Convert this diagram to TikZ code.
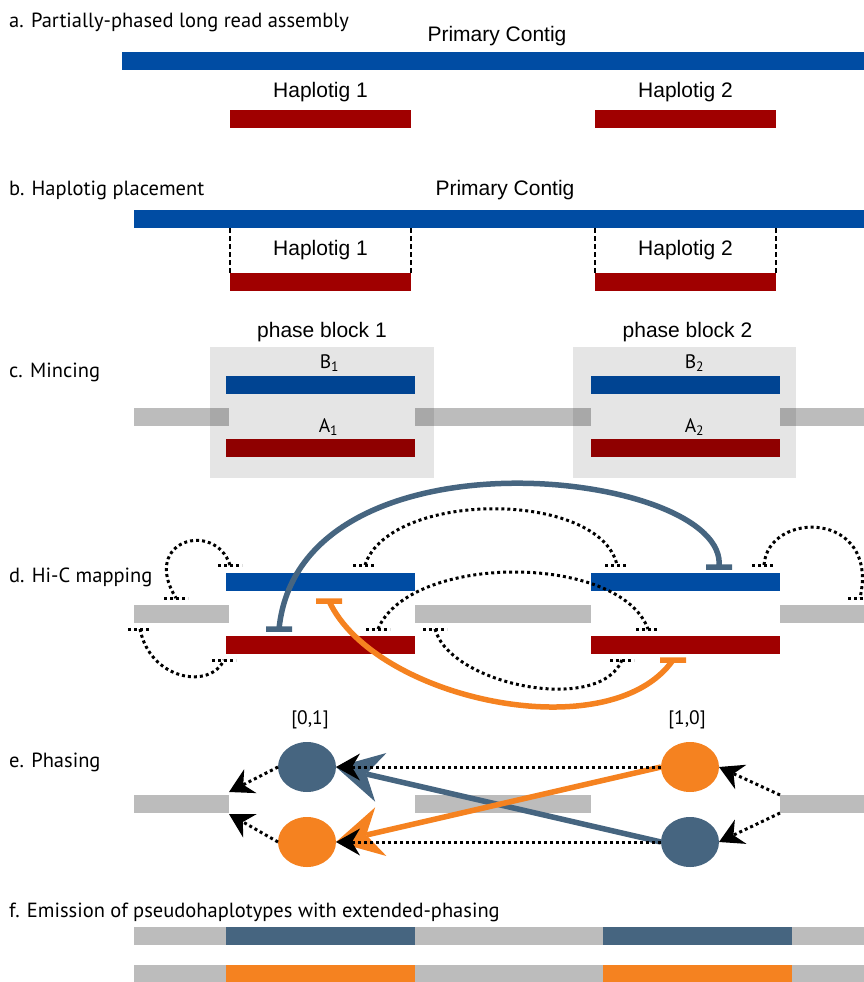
\documentclass[tikz,border=0pt]{standalone}
\usepackage{fontspec}
\newfontfamily\lblfont{PT Sans}
\newfontfamily\arfont{Liberation Sans}
\usepackage{tikz}
\usetikzlibrary{arrows.meta,positioning,shapes.geometric}

\definecolor{cblue}{RGB}{0,76,163}
\definecolor{cred}{RGB}{160,0,0}
\definecolor{cgray}{RGB}{188,188,188}
\definecolor{csteel}{RGB}{70,101,128}
\definecolor{corange}{RGB}{245,130,32}

\begin{document}
\begin{tikzpicture}[
  x=1pt, y=1pt,
  ctg/.style={rectangle, inner sep=0pt, outer sep=0pt, minimum height=18pt, anchor=west},
  tag/.style={font=\lblfont\fontsize{20.5}{24}\selectfont, anchor=base west, inner sep=0pt},
  ttl/.style={font=\arfont\fontsize{21}{25}\selectfont, anchor=base, inner sep=0pt},
  sub/.style={font=\lblfont\fontsize{19.5}{23}\selectfont, anchor=base, inner sep=0pt},
  pblock/.style={rectangle, fill=black, fill opacity=0.1, inner sep=0pt, outer sep=0pt},
  guide/.style={dash pattern=on 5pt off 3pt, line width=1.6pt},
  hic/.style={dash pattern=on 3pt off 3pt, line width=3pt},
  link/.style={line width=5.5pt},
  hap/.style={ellipse, inner sep=0pt, outer sep=0pt, minimum width=58pt, minimum height=50pt},
  dotarr/.style={hic, -{Stealth[length=24pt, width=27pt, inset=8pt, line width=0pt]}},
  bigarr/.style={link, -{Stealth[length=46pt, width=50pt, inset=15pt, line width=0pt]}},
]
\useasboundingbox (0,0) rectangle (864,-982);

% a. assembly
\node[tag] at (9,-28) {a. Partially-phased long read assembly};
\node[ctg, fill=cblue, minimum width=742pt] (aPrim) at (122,-61) {};
\node[ttl] at (497,-42) {Primary Contig};
\node[ctg, fill=cred, minimum width=181pt] (aHap1) at (230,-119) {};
\node[ctg, fill=cred, minimum width=181pt] (aHap2) at (595,-119) {};
\node[ttl, above=13pt of aHap1.north, anchor=base] {Haplotig 1};
\node[ttl, above=13pt of aHap2.north, anchor=base] {Haplotig 2};

% b. placement
\node[tag] at (9,-195) {b. Haplotig placement};
\node[ctg, fill=cblue, minimum width=730pt] (bPrim) at (134,-219) {};
\node[ttl] at (505,-195) {Primary Contig};
\node[ctg, fill=cred, minimum width=181pt] (bHap1) at (230,-282) {};
\node[ctg, fill=cred, minimum width=181pt] (bHap2) at (595,-282) {};
\node[ttl, above=18pt of bHap1.north, anchor=base] {Haplotig 1};
\node[ttl, above=18pt of bHap2.north, anchor=base] {Haplotig 2};
\draw[guide] (bHap1.north west) -- (bHap1.north west |- bPrim.south);
\draw[guide] (bHap1.north east) -- (bHap1.north east |- bPrim.south);
\draw[guide] (bHap2.north west) -- (bHap2.north west |- bPrim.south);
\draw[guide] (bHap2.north east) -- (bHap2.north east |- bPrim.south);

% c. mincing
\node[tag] at (9,-377) {c. Mincing};
\node[ctg, fill=cgray, minimum width=95pt] (cGL) at (134,-417) {};
\node[ctg, fill=cgray, minimum width=176pt] (cGM) at (415,-417) {};
\node[ctg, fill=cgray, minimum width=84pt] (cGR) at (780,-417) {};
\node[ctg, fill=cblue, minimum width=189pt] (cB1) at (226,-385) {};
\node[ctg, fill=cblue, minimum width=189pt] (cB2) at (591,-385) {};
\node[ctg, fill=cred, minimum width=189pt] (cA1) at (226,-448) {};
\node[ctg, fill=cred, minimum width=189pt] (cA2) at (591,-448) {};
\node[pblock, minimum width=224pt, minimum height=131pt] (cBox1) at (322,-412.5) {};
\node[pblock, minimum width=223pt, minimum height=131pt] (cBox2) at (684.5,-412.5) {};
\node[ttl, above=10pt of cBox1.north, anchor=base] {phase block 1};
\node[ttl, above=10pt of cBox2.north, anchor=base, xshift=3pt] {phase block 2};
\node[sub] at ([shift={(9,8)}]cB1.north) {B\textsubscript{1}};
\node[sub] at ([shift={(8,7)}]cA1.north) {A\textsubscript{1}};
\node[sub] at ([shift={(9,8)}]cB2.north) {B\textsubscript{2}};
\node[sub] at ([shift={(9,7)}]cA2.north) {A\textsubscript{2}};

% d. Hi-C mapping
\node[tag] at (9,-582) {d. Hi-C mapping};
\node[ctg, fill=cblue, minimum width=189pt] (dB1) at (226,-582) {};
\node[ctg, fill=cblue, minimum width=189pt] (dB2) at (591,-582) {};
\node[ctg, fill=cgray, minimum width=95pt] (dGL) at (134,-614) {};
\node[ctg, fill=cgray, minimum width=176pt] (dGM) at (415,-614) {};
\node[ctg, fill=cgray, minimum width=84pt] (dGR) at (780,-614) {};
\node[ctg, fill=cred, minimum width=189pt] (dA1) at (226,-645) {};
\node[ctg, fill=cred, minimum width=189pt] (dA2) at (591,-645) {};

\coordinate (l1a) at ([shift={(53,7)}]dA1.north west);
\coordinate (l1b) at ([shift={(128,6)}]dB2.north west);
\coordinate (l2a) at ([shift={(103,-10)}]dB1.south west);
\coordinate (l2b) at ([shift={(82,-6)}]dA2.south west);
\coordinate (h1a) at ([shift={(4,8)}]dB1.north west);
\coordinate (h1b) at ([shift={(42,7)}]dGL.north west);
\coordinate (h2a) at ([shift={(6,-6)}]dGL.south west);
\coordinate (h2b) at ([shift={(-2,-6)}]dA1.south west);
\coordinate (h3a) at ([shift={(-50,8)}]dB1.north east);
\coordinate (h3b) at ([shift={(26,8)}]dB2.north west);
\coordinate (h4a) at ([shift={(-37,7)}]dA1.north east);
\coordinate (h4b) at ([shift={(57,7)}]dA2.north west);
\coordinate (h5a) at ([shift={(20,-6)}]dGM.south west);
\coordinate (h5b) at ([shift={(31,-6)}]dA2.south west);
\coordinate (h6a) at ([shift={(-16,8)}]dB2.north east);
\coordinate (h6b) at ([shift={(-4,7)}]dGR.north east);

\draw[link, csteel] (l1a) .. controls +(21,209) and +(11,97) .. (l1b)
  ([xshift=-13pt]l1a) -- ([xshift=13pt]l1a) ([xshift=-13pt]l1b) -- ([xshift=13pt]l1b);
\draw[link, corange] (l2a) .. controls +(46,-99) and +(-63,-90) .. (l2b)
  ([xshift=-13pt]l2a) -- ([xshift=13pt]l2a) ([xshift=-13pt]l2b) -- ([xshift=13pt]l2b);
\draw[hic] (h1a) .. controls +(-15,45) and +(-36,58) .. (h1b);
\draw[hic] (h2a) .. controls +(10,-51) and +(-14,-30) .. (h2b);
\draw[hic] (h3a) .. controls +(25,75) and +(-17,75) .. (h3b);
\draw[hic] (h4a) .. controls +(32,76) and +(-28,76) .. (h4b);
\draw[hic] (h5a) .. controls +(15,-56) and +(-22,-55) .. (h5b);
\draw[hic] (h6a) .. controls +(4,55) and +(20,88) .. (h6b);
\foreach \p in {h1a,h1b,h2a,h2b,h3a,h3b,h4a,h4b,h5a,h5b,h6a,h6b}
  \draw[hic] ([xshift=-12pt]\p) -- ([xshift=12pt]\p);

% e. phasing
\node[tag] at (9,-767) {e. Phasing};
\node[ctg, fill=cgray, minimum width=95pt] (eGL) at (134,-804) {};
\node[ctg, fill=cgray, minimum width=176pt] (eGM) at (415,-804) {};
\node[ctg, fill=cgray, minimum width=84pt] (eGR) at (780,-804) {};
\node[hap, fill=csteel] (eL1) at (307,-767) {};
\node[hap, fill=corange, below=25pt of eL1] (eL2) {};
\node[hap, fill=corange] (eR1) at (690,-767) {};
\node[hap, fill=csteel, below=25pt of eR1] (eR2) {};
\node[sub, above=18pt of eL1.north, anchor=base, xshift=3pt] {[0,1]};
\node[sub, above=18pt of eR1.north, anchor=base, xshift=-3pt] {[1,0]};
\draw[bigarr, csteel] (eR2.west) -- (eL1.east);
\draw[bigarr, corange] (eR1.west) -- (eL2.east);
\draw[dotarr] (eR1.west) -- (eL1.east);
\draw[dotarr] (eR2.west) -- (eL2.east);
\draw[dotarr] (eL1.west) -- ([yshift=3pt]eGL.north east);
\draw[dotarr] (eL2.west) -- ([yshift=-1pt]eGL.south east);
\draw[dotarr] (eGR.north west) -- (eR1.east);
\draw[dotarr] (eGR.south west) -- (eR2.east);

% f. emission
\node[tag] at (9,-917) {f. Emission of pseudohaplotypes with extended-phasing};
\node[ctg, fill=cgray, minimum width=92pt] (fG1) at (134,-936) {};
\node[ctg, fill=csteel, minimum width=189pt, right=0pt of fG1] (fP1) {};
\node[ctg, fill=cgray, minimum width=188pt, right=0pt of fP1] (fG2) {};
\node[ctg, fill=csteel, minimum width=189pt, right=0pt of fG2] (fP2) {};
\node[ctg, fill=cgray, minimum width=72pt, right=0pt of fP2] (fG3) {};
\node[ctg, fill=cgray, minimum width=92pt] (fH1) at (134,-974) {};
\node[ctg, fill=corange, minimum width=189pt, right=0pt of fH1] (fQ1) {};
\node[ctg, fill=cgray, minimum width=188pt, right=0pt of fQ1] (fH2) {};
\node[ctg, fill=corange, minimum width=189pt, right=0pt of fH2] (fQ2) {};
\node[ctg, fill=cgray, minimum width=72pt, right=0pt of fQ2] (fH3) {};
\end{tikzpicture}
\end{document}
